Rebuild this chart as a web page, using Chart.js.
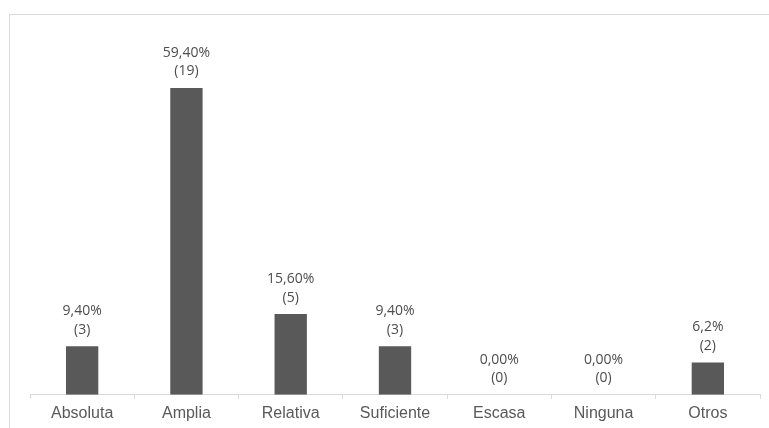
<!DOCTYPE html>
<html>

<head>
    <meta charset="UTF-8">
    <title>Bar Chart</title>
    <script src="https://cdn.jsdelivr.net/npm/chart.js@4/dist/chart.umd.min.js"></script>
    <style type="text/css">
        body {
            margin: 0;
            background: #ffffff;
        }

        #frame {
            position: absolute;
            left: 9px;
            top: 14px;
            right: 0;
            bottom: 0;
            border-left: 1.5px solid #d9d9d9;
            border-top: 1.5px solid #d9d9d9;
        }

        #chart-area {
            position: absolute;
            left: 0;
            top: 0;
        }
    </style>
</head>

<body>
    <div id="frame"></div>
    <canvas id="chart-area" width="769" height="428"></canvas>

    <script>
        var categorias = ['Absoluta', 'Amplia', 'Relativa', 'Suficiente', 'Escasa', 'Ninguna', 'Otros'];
        var cantidades = [3, 19, 5, 3, 0, 0, 2];
        var porcentajes = ['9,40%', '59,40%', '15,60%', '9,40%', '0,00%', '0,00%', '6,2%'];

        // etiquetas encima de cada barra (porcentaje y cantidad)
        var etiquetasBarras = {
            id: 'etiquetasBarras',
            afterDatasetsDraw: function (chart) {
                var ctx = chart.ctx;
                var meta = chart.getDatasetMeta(0);
                ctx.save();
                ctx.font = '14px "Open Sans"';
                ctx.fillStyle = '#4d4d4d';
                ctx.textAlign = 'center';
                ctx.textBaseline = 'middle';
                meta.data.forEach(function (bar, i) {
                    ctx.fillText(porcentajes[i], bar.x, bar.y - 35);
                    ctx.fillText('(' + cantidades[i] + ')', bar.x, bar.y - 16.5);
                });
                ctx.restore();
            }
        };

        var config = {
            type: 'bar',
            data: {
                labels: categorias,
                datasets: [{
                    data: cantidades,
                    backgroundColor: '#595959',
                    barPercentage: 0.62,
                    categoryPercentage: 0.5
                }]
            },
            options: {
                responsive: false,
                animation: false,
                layout: {
                    padding: { left: 30, right: 9, top: 88, bottom: 0 }
                },
                plugins: {
                    legend: { display: false },
                    tooltip: { enabled: false }
                },
                scales: {
                    x: {
                        grid: {
                            display: true,
                            drawOnChartArea: false,
                            drawTicks: true,
                            offset: true,
                            tickLength: 4,
                            color: '#d9d9d9'
                        },
                        border: { display: true, color: '#d9d9d9', width: 1 },
                        ticks: {
                            padding: 5,
                            color: '#595959',
                            font: { family: '"Liberation Sans", Arial', size: 16 }
                        }
                    },
                    y: {
                        display: false,
                        min: 0,
                        max: 19
                    }
                }
            },
            plugins: [etiquetasBarras]
        };

        window.onload = function () {
            var ctx = document.getElementById('chart-area').getContext('2d');
            grafico = new Chart(ctx, config);
        };
    </script>

</body>

</html>
